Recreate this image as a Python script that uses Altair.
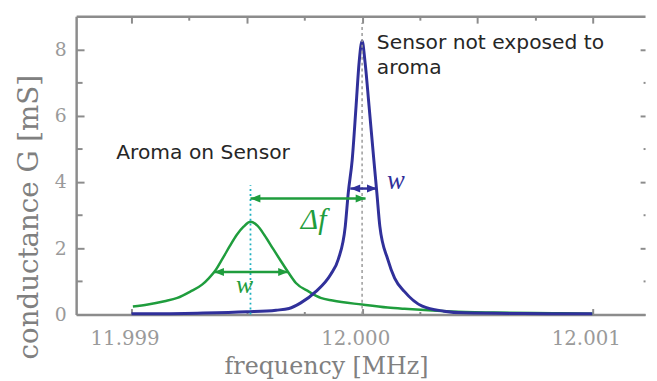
import altair as alt
import pandas as pd

# ---------------- data ----------------
# Sensor not exposed to aroma (blue resonance)
BLUE_F = [11.999000, 11.999285, 11.999499, 11.999627, 11.999683, 11.999734, 11.999799,
          11.999863, 11.999897, 11.999927, 11.999940, 11.999957, 11.999974, 11.999987,
          12.000000, 12.000013, 12.000030, 12.000051, 12.000064, 12.000077, 12.000111,
          12.000141, 12.000184, 12.000261, 12.000355, 12.000441, 12.000698, 12.000998]
BLUE_G = [0.02, 0.04, 0.08, 0.13, 0.18, 0.35, 0.69,
          1.2, 1.67, 2.66, 3.67, 4.66, 6.3, 7.6,
          8.25, 7.6, 6.3, 4.66, 3.67, 2.66, 1.67,
          1.1, 0.69, 0.25, 0.1, 0.05, 0.03, 0.02]

# Aroma on sensor (green resonance)
GREEN_F = [11.999006, 11.999071, 11.999143, 11.999199, 11.999255, 11.999306, 11.999336,
           11.999362, 11.999396, 11.999426, 11.999456, 11.999486, 11.999516, 11.999546,
           11.999576, 11.999615, 11.999649, 11.999679, 11.999713, 11.999769, 11.999820,
           11.999872, 12.000000, 12.000111, 12.000184, 12.000385, 12.000570, 12.000827,
           12.000998]
GREEN_G = [0.24, 0.3, 0.4, 0.5, 0.69, 0.9, 1.1,
           1.31, 1.7, 2.06, 2.4, 2.65, 2.8, 2.68,
           2.4, 1.97, 1.6, 1.28, 0.95, 0.69, 0.5,
           0.42, 0.3, 0.21, 0.17, 0.09, 0.06, 0.04,
           0.02]

# dotted vertical markers
VLINE_F = [11.999516, 12.000000]
VLINE_TOP = [3.9, 8.8]

# double arrows: delta f, green w, blue w
ARROW_F1 = [11.999516, 11.999358, 11.999949]
ARROW_F2 = [12.000015, 11.999679, 12.000064]
ARROW_G = [3.5, 1.28, 3.8]
ARROW_KIND = ["green", "green", "blue"]

# annotation texts
NOTE_TEXT = ["Aroma on Sensor", "Sensor not exposed to", "aroma"]
NOTE_F = [11.998934, 12.000064, 12.000064]
NOTE_G = [4.87, 8.18, 7.43]

SYM_TEXT = ["Δf", "w", "w"]
SYM_F = [11.999790, 11.999490, 12.000146]
SYM_G = [2.84, 0.9, 4.03]
SYM_KIND = ["green", "green", "blue"]
SYM_SIZE = [30, 26, 27]

# axes
X_DOMAIN = [11.99876, 12.001227]
Y_DOMAIN = [0, 9]
X_LABELS = [11.999, 12.000, 12.001]
X_QUARTERS = [11.99925, 11.9995, 11.99975, 12.00025, 12.0005, 12.00075]
TOP_MAJOR = [11.999, 11.9995, 12.000, 12.0005, 12.001]
TOP_MINOR = [11.99925, 11.99975, 12.00025, 12.00075]
Y_MAJOR = [0, 2, 4, 6, 8]
Y_MINOR = [1, 3, 5, 7]

# ---------------- styling ----------------
GRAY = "#8c8c8c"
GREEN = "#1f9d3d"
BLUE = "#30309a"
CYAN = "#1fb0c0"
KIND_SCALE = alt.Scale(domain=["green", "blue"], range=[GREEN, BLUE])
XS = alt.Scale(domain=X_DOMAIN, nice=False, zero=False)
YS = alt.Scale(domain=Y_DOMAIN, nice=False, zero=False)


def tick_axis(orient, values, size):
    return alt.Axis(orient=orient, values=values, tickSize=size, offset=-size,
                    ticks=True, labels=False, domain=False, grid=False, title=None,
                    tickColor=GRAY, tickWidth=2)


x_label_axis = alt.Axis(orient="bottom", values=X_LABELS, format=".3f", ticks=False,
                        domain=True, domainColor=GRAY, domainWidth=2.5, grid=False,
                        labelFont="DejaVu Serif", labelFontSize=20, labelColor="#9a9a9a",
                        labelPadding=14, labelOffset=-7, labelFlush=False,
                        title="frequency [MHz]", titleFont="DejaVu Serif", titleFontSize=24,
                        titleFontWeight="normal", titleColor="#808080",
                        titleX=253, titleY=53, titleAlign="center", titleBaseline="middle")
y_label_axis = alt.Axis(orient="left", values=Y_MAJOR, format="d", ticks=False,
                        domain=True, domainColor=GRAY, domainWidth=2.5, grid=False,
                        labelFont="DejaVu Serif", labelFontSize=19, labelColor="#9a9a9a",
                        labelPadding=10, labelFlush=False,
                        title="conductance G [mS]", titleFont="DejaVu Serif", titleFontSize=28,
                        titleFontWeight="normal", titleColor="#808080", titleAngle=270,
                        titleX=-47, titleY=203, titleAlign="center", titleBaseline="middle")
top_domain_axis = alt.Axis(orient="top", ticks=False, labels=False, domain=True,
                           domainColor=GRAY, domainWidth=2.5, grid=False, title=None)

green_df = pd.DataFrame({"f": GREEN_F, "g": GREEN_G})
blue_df = pd.DataFrame({"f": BLUE_F, "g": BLUE_G})

green = alt.Chart(green_df).mark_line(color=GREEN, strokeWidth=2.5, interpolate="monotone").encode(
    x=alt.X("f:Q", scale=XS, axis=x_label_axis),
    y=alt.Y("g:Q", scale=YS, axis=y_label_axis),
)
blue = alt.Chart(blue_df).mark_line(color=BLUE, strokeWidth=3, interpolate="monotone").encode(
    x=alt.X("f:Q", scale=XS, axis=tick_axis("bottom", X_QUARTERS, 3)),
    y=alt.Y("g:Q", scale=YS, axis=tick_axis("left", Y_MAJOR, 8)),
)

cyan_df = pd.DataFrame({"f": [VLINE_F[0]], "g0": [0], "g1": [VLINE_TOP[0]]})
gray_df = pd.DataFrame({"f": [VLINE_F[1]], "g0": [0], "g1": [VLINE_TOP[1]]})

cyan_rule = alt.Chart(cyan_df).mark_rule(color=CYAN, strokeWidth=1.8, strokeDash=[2, 3]).encode(
    x=alt.X("f:Q", scale=XS, axis=tick_axis("bottom", X_LABELS, 6)),
    y=alt.Y("g0:Q", scale=YS, axis=tick_axis("left", Y_MINOR, 6)),
    y2="g1:Q",
)
gray_rule = alt.Chart(gray_df).mark_rule(color="#9a9a9a", strokeWidth=1.5, strokeDash=[3, 3]).encode(
    x=alt.X("f:Q", scale=XS, axis=top_domain_axis),
    y=alt.Y("g0:Q", scale=YS, axis=tick_axis("right", Y_MAJOR, 5)),
    y2="g1:Q",
)

arrow_df = pd.DataFrame({"f1": ARROW_F1, "f2": ARROW_F2, "g": ARROW_G, "kind": ARROW_KIND})
arrows = alt.Chart(arrow_df).mark_rule(strokeWidth=2.5).encode(
    x=alt.X("f1:Q", scale=XS, axis=tick_axis("top", TOP_MAJOR, 7)),
    x2="f2:Q",
    y=alt.Y("g:Q", scale=YS, axis=tick_axis("right", Y_MINOR, 2)),
    color=alt.Color("kind:N", scale=KIND_SCALE, legend=None),
)

PATH_L = "M0,0L2,-0.8L2,0.8Z"
PATH_R = "M0,0L-2,-0.8L-2,0.8Z"
head_rows = []
for f1, f2, g, k in zip(ARROW_F1, ARROW_F2, ARROW_G, ARROW_KIND):
    head_rows.append({"f": f1, "g": g, "kind": k, "dir": "L"})
    head_rows.append({"f": f2, "g": g, "kind": k, "dir": "R"})
head_df = pd.DataFrame(head_rows)
heads = alt.Chart(head_df).mark_point(filled=True, opacity=1, size=100, strokeWidth=0).encode(
    x=alt.X("f:Q", scale=XS, axis=tick_axis("top", TOP_MINOR, 4)),
    y=alt.Y("g:Q", scale=YS, axis=None),
    color=alt.Color("kind:N", scale=KIND_SCALE, legend=None),
    shape=alt.Shape("dir:N", scale=alt.Scale(domain=["L", "R"], range=[PATH_L, PATH_R]), legend=None),
)

note_df = pd.DataFrame({"t": NOTE_TEXT, "f": NOTE_F, "g": NOTE_G})
notes = alt.Chart(note_df).mark_text(align="left", baseline="middle", font="DejaVu Sans",
                                     fontSize=20.5, color="#262626").encode(
    x=alt.X("f:Q", scale=XS, axis=None),
    y=alt.Y("g:Q", scale=YS, axis=None),
    text="t:N",
)

sym_df = pd.DataFrame({"t": SYM_TEXT, "f": SYM_F, "g": SYM_G, "kind": SYM_KIND, "s": SYM_SIZE})
syms = alt.Chart(sym_df).mark_text(align="center", baseline="middle", font="Liberation Serif",
                                   fontStyle="italic").encode(
    x=alt.X("f:Q", scale=XS, axis=None),
    y=alt.Y("g:Q", scale=YS, axis=None),
    text="t:N",
    color=alt.Color("kind:N", scale=KIND_SCALE, legend=None),
    size=alt.Size("s:Q", scale=None, legend=None),
)

chart = (
    alt.layer(green, blue, cyan_rule, gray_rule, arrows, heads, notes, syms)
    .resolve_scale(x="shared", y="shared")
    .resolve_axis(x="independent", y="independent")
    .properties(width=576, height=302,
                autosize=alt.AutoSizeParams(type="none"),
                padding={"left": 69, "top": 6, "right": 4, "bottom": 63},
                background="white")
    .configure_view(stroke=None)
)

chart.save("out.html", embed_options={"renderer": "svg", "actions": False})
